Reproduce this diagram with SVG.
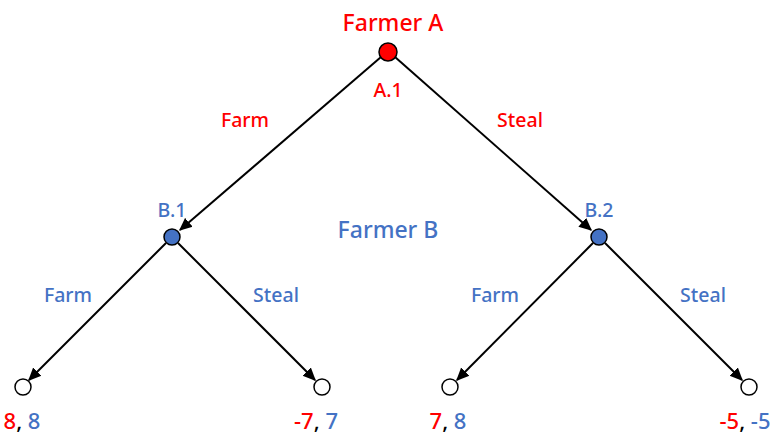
<svg xmlns="http://www.w3.org/2000/svg" width="773" height="435" viewBox="0 0 773 435">
<style>
text{font-family:"Noto Sans","Open Sans",sans-serif;font-weight:500;text-anchor:middle}
.r{fill:#FF0000}.b{fill:#4472C4}
.t{font-size:23px}.s{font-size:19.5px}.p{font-size:22px}.k{fill:#000}
.e{stroke:#000;stroke-width:2;fill:none;marker-end:url(#ah)}
.leaf{fill:#fff;stroke:#000;stroke-width:1.5}
</style>
<defs>
<marker id="ah" viewBox="0 0 10 10" refX="9" refY="5" markerWidth="6.5" markerHeight="6.5" orient="auto" markerUnits="strokeWidth">
<path d="M0,0.5 L10,5 L0,9.5 z" fill="#000"/>
</marker>
</defs>
<rect width="773" height="435" fill="#fff"/>
<g id="connectors">
<line class="e" x1="381" y1="57" x2="180" y2="230"/>
<line class="e" x1="395" y1="57" x2="591" y2="230"/>
<line class="e" x1="166" y1="243" x2="29" y2="380"/>
<line class="e" x1="178" y1="243" x2="315" y2="380"/>
<line class="e" x1="593" y1="243" x2="457" y2="380"/>
<line class="e" x1="605" y1="243" x2="742" y2="380"/>
<text class="r s" x="245" y="127">Farm</text>
<text class="r s" x="520" y="127">Steal</text>
<text class="b s" x="68" y="302">Farm</text>
<text class="b s" x="276" y="302">Steal</text>
<text class="b s" x="495" y="302">Farm</text>
<text class="b s" x="703" y="302">Steal</text>
</g>
<g id="A1">
<circle cx="388" cy="52" r="9" fill="#FF0000" stroke="#000" stroke-width="1.5"/>
<text class="r t" x="393" y="31">Farmer A</text>
<text class="r s" x="388" y="97">A.1</text>
</g>
<g id="B1">
<circle cx="172" cy="237" r="8" fill="#4472C4" stroke="#000" stroke-width="1.5"/>
<text class="b s" x="172" y="217">B.1</text>
</g>
<g id="farmerB">
<text class="b t" x="388" y="238">Farmer B</text>
</g>
<g id="B2">
<circle cx="599" cy="237" r="8" fill="#4472C4" stroke="#000" stroke-width="1.5"/>
<text class="b s" x="599" y="217">B.2</text>
</g>
<g id="L1">
<circle class="leaf" cx="23" cy="387" r="8"/>
<text class="p" x="22" y="429"><tspan class="r">8</tspan><tspan class="k">, </tspan><tspan class="b">8</tspan></text>
</g>
<g id="L2">
<circle class="leaf" cx="322" cy="387" r="8"/>
<text class="p" x="316" y="429"><tspan class="r">-7</tspan><tspan class="k">, </tspan><tspan class="b">7</tspan></text>
</g>
<g id="L3">
<circle class="leaf" cx="450" cy="387" r="8"/>
<text class="p" x="448" y="429"><tspan class="r">7</tspan><tspan class="k">, </tspan><tspan class="b">8</tspan></text>
</g>
<g id="L4">
<circle class="leaf" cx="749" cy="387" r="8"/>
<text class="p" x="745" y="429"><tspan class="r">-5</tspan><tspan class="k">, </tspan><tspan class="b">-5</tspan></text>
</g>
</svg>
